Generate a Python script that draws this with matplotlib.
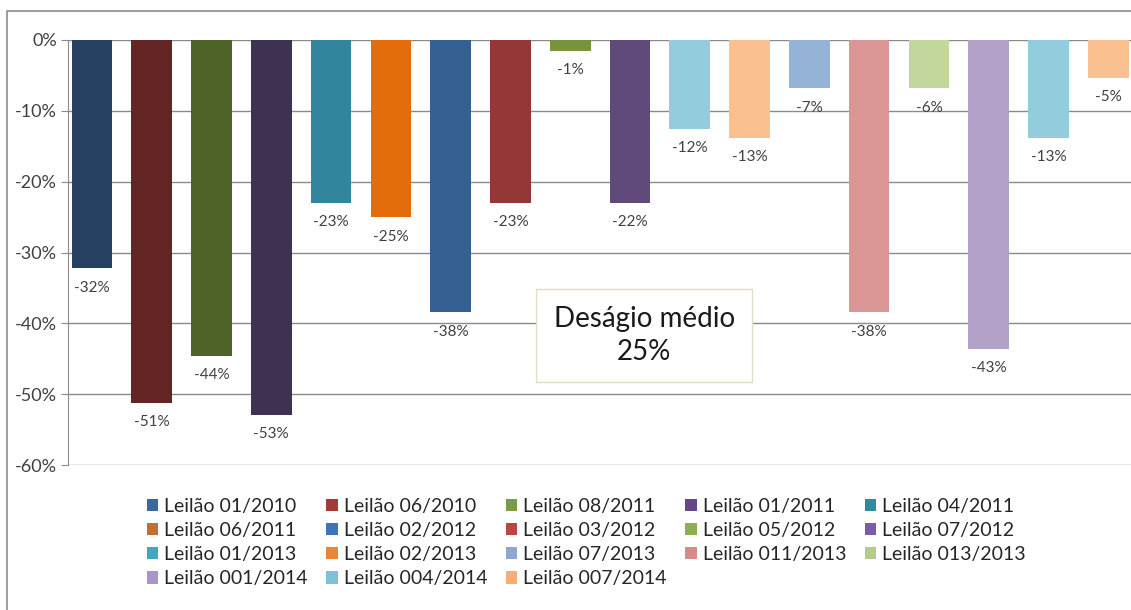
import matplotlib.pyplot as plt
from matplotlib.patches import Patch, Rectangle

plt.rcParams['font.family'] = ['Lato', 'DejaVu Sans']

# data
leiloes = ["01/2010", "06/2010", "08/2011", "01/2011", "04/2011", "06/2011",
           "02/2012", "03/2012", "05/2012", "07/2012", "01/2013", "02/2013",
           "07/2013", "011/2013", "013/2013", "001/2014", "004/2014", "007/2014"]
desagio = [-32.2, -51.2, -44.6, -52.9, -23.0, -25.0, -38.4, -23.0, -1.5, -23.0,
           -12.5, -13.8, -6.8, -38.4, -6.8, -43.6, -13.8, -5.3]
rotulos = ["-32%", "-51%", "-44%", "-53%", "-23%", "-25%", "-38%", "-23%", "-1%",
           "-22%", "-12%", "-13%", "-7%", "-38%", "-6%", "-43%", "-13%", "-5%"]
cores_barras = ["#254061", "#632523", "#4F6228", "#3F3151", "#31859C", "#E46C0A",
                "#376092", "#953735", "#77933C", "#604A7B", "#93CDDD", "#FAC090",
                "#95B3D7", "#D99694", "#C3D69B", "#B3A2C7", "#93CDDD", "#FAC090"]
cores_legenda = ["#3C68A0", "#A33A37", "#7A9A48", "#65478A", "#2F8AA4", "#C46D2D",
                 "#3E74BA", "#B94643", "#8DB04E", "#7D5BA6", "#3FA8C0", "#E8863A",
                 "#8CA8D0", "#D88A88", "#B4CD8A", "#A896C8", "#7FC0D6", "#F5AE78"]
media_texto = "Deságio médio\n25%"

W, H = 1131, 610
fig = plt.figure(figsize=(W / 100, H / 100), dpi=100)

# outer chart frame (cut off on right/bottom)
fig.patches.append(Rectangle((7 / W, -0.1), 1.2, 1 - 11 / H + 0.1, transform=fig.transFigure,
                             fill=False, edgecolor="#8c8c8c", linewidth=1.2))

ax = fig.add_axes([68 / W, 1 - 465 / H, (W - 68) / W, (465 - 40) / H])
x = range(len(desagio))
ax.bar(x, desagio, width=0.68, color=cores_barras, zorder=3)

for i, (v, r) in enumerate(zip(desagio, rotulos)):
    ax.annotate(r, (i, v), xytext=(0, -9), textcoords="offset points",
                ha="center", va="top", fontsize=11, color="#404040")

ax.set_xlim(-0.4, 17.38)
ax.set_ylim(-60, 0)
ax.set_yticks(range(-60, 1, 10))
ax.set_yticklabels([f"{t}%" for t in range(-60, 1, 10)], fontsize=13, color="#404040")
ax.set_xticks([])
ax.grid(axis="y", color="#8a8a8a", linewidth=1, zorder=0)
ax.tick_params(axis="y", length=5, color="#8a8a8a", pad=3)
for s in ["top", "right", "bottom"]:
    ax.spines[s].set_visible(False)
ax.spines["left"].set_color("#8a8a8a")

ax.text(0.542, 0.305, media_texto, transform=ax.transAxes, ha="center", va="center",
        fontsize=20, color="#1a1a1a", linespacing=1.3,
        bbox=dict(boxstyle="square,pad=0.62", facecolor="white", edgecolor="#e3dcc0", linewidth=1))

# legend filled row by row, like the original
ncol = 5
handles = [Patch(facecolor=c, label="Leilão " + l) for c, l in zip(cores_legenda, leiloes)]
ordem = [r * ncol + c for c in range(ncol) for r in range(4) if r * ncol + c < len(handles)]
fig.legend(handles=[handles[k] for k in ordem], ncol=ncol, loc="upper left",
           bbox_to_anchor=(137 / W, 1 - 488 / H),
           frameon=False, fontsize=14, handlelength=0.6, handleheight=0.6, handletextpad=0.3,
           columnspacing=0.95, labelspacing=0.37, labelcolor="#262626", borderpad=0)

fig.savefig("out.png", dpi=100)
